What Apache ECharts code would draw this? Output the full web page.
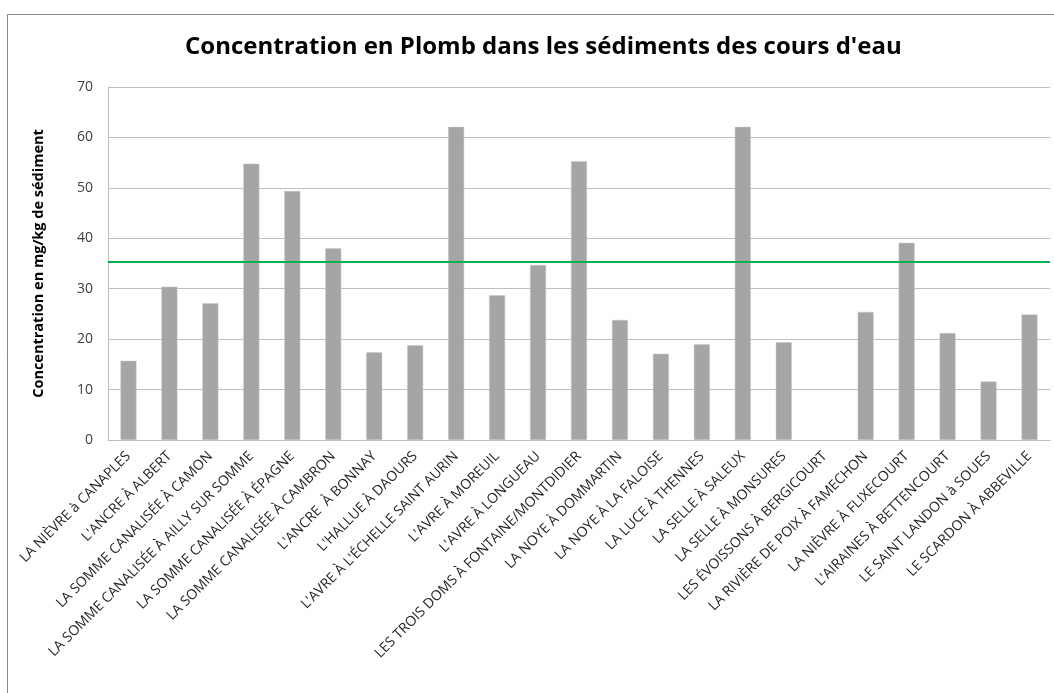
<!DOCTYPE html>
<html>
<head>
<meta charset="utf-8">
<script src="https://cdn.jsdelivr.net/npm/echarts@6/dist/echarts.min.js"></script>
<style>
  html, body { margin: 0; padding: 0; background: #fff; }
  #main { width: 1054px; height: 693px; }
</style>
</head>
<body>
<div id="main"></div>
<script>
// stations de prélèvement
var stations = [
    'LA NIÈVRE à CANAPLES',
    "L'ANCRE À ALBERT",
    'LA SOMME CANALISÉE À CAMON',
    'LA SOMME CANALISÉE À AILLY SUR SOMME',
    'LA SOMME CANALISÉE À ÉPAGNE',
    'LA SOMME CANALISÉE À CAMBRON',
    "L'ANCRE  À BONNAY",
    "L'HALLUE À DAOURS",
    "L'AVRE À L'ÉCHELLE SAINT AURIN",
    "L'AVRE À MOREUIL",
    "L'AVRE À LONGUEAU",
    'LES TROIS DOMS À FONTAINE/MONTDIDIER',
    'LA NOYE À DOMMARTIN',
    'LA NOYE À LA FALOISE',
    'LA LUCE À THENNES',
    'LA SELLE À SALEUX',
    'LA SELLE À MONSURES',
    'LES ÉVOISSONS À BERGICOURT',
    'LA RIVIÈRE DE POIX À FAMECHON',
    'LA NIÈVRE À FLIXECOURT',
    "L'AIRAINES À BETTENCOURT",
    'LE SAINT LANDON à SOUES',
    'LE SCARDON À ABBEVILLE'
];
// concentration en plomb (mg/kg)
var plomb = [15.7, 30.4, 27.1, 54.8, 49.4, 38.0, 17.4, 18.8, 62.1, 28.7, 34.7, 55.3,
    23.8, 17.1, 19.0, 62.1, 19.4, null, 25.4, 39.1, 21.2, 11.6, 24.9];
// seuil
var seuil = 35.3;
var yTicks = [0, 10, 20, 30, 40, 50, 60, 70];

var myChart = echarts.init(document.getElementById('main'));

var option = {
    animation: false,
    title: {
        text: 'Concentration en Plomb dans les sédiments des cours d\'eau',
        left: 180,
        top: 30,
        textStyle: {
            fontFamily: 'Open Sans',
            fontWeight: 'bold',
            fontSize: 24,
            color: '#000'
        }
    },
    graphic: [{
        type: 'rect',
        shape: { x: 7.5, y: 14.5, width: 1100, height: 720 },
        style: { fill: 'none', stroke: '#868686', lineWidth: 1 },
        silent: true
    }],
    grid: {
        left: 108,
        right: 4,
        top: 87,
        bottom: 253
    },
    xAxis: {
        type: 'category',
        data: stations,
        axisTick: { show: false },
        axisLine: { lineStyle: { color: '#bfbfbf' } },
        axisLabel: {
            interval: 0,
            rotate: 45,
            margin: 14,
            fontFamily: 'Open Sans',
            fontSize: 14,
            color: '#262626'
        }
    },
    yAxis: {
        type: 'value',
        min: yTicks[0],
        max: yTicks[yTicks.length - 1],
        interval: 10,
        name: 'Concentration en mg/kg de sédiment',
        nameLocation: 'middle',
        nameGap: 62,
        nameTextStyle: {
            fontFamily: 'Open Sans',
            fontWeight: 'bold',
            fontSize: 14.5,
            color: '#000'
        },
        axisLine: { show: true, lineStyle: { color: '#bfbfbf' } },
        axisTick: { show: false },
        axisLabel: {
            margin: 15,
            fontFamily: 'Open Sans',
            fontSize: 14,
            color: '#404040'
        },
        splitLine: { lineStyle: { color: '#bfbfbf' } }
    },
    series: [{
        type: 'bar',
        data: plomb,
        barWidth: 16,
        itemStyle: {
            color: '#a5a5a5',
            borderColor: '#c8c8c8',
            borderWidth: 0.5
        },
        markLine: {
            silent: true,
            symbol: 'none',
            label: { show: false },
            lineStyle: { color: '#00b050', width: 2, type: 'solid' },
            data: [{ yAxis: seuil }]
        }
    }]
};
myChart.setOption(option);
</script>
</body>
</html>
